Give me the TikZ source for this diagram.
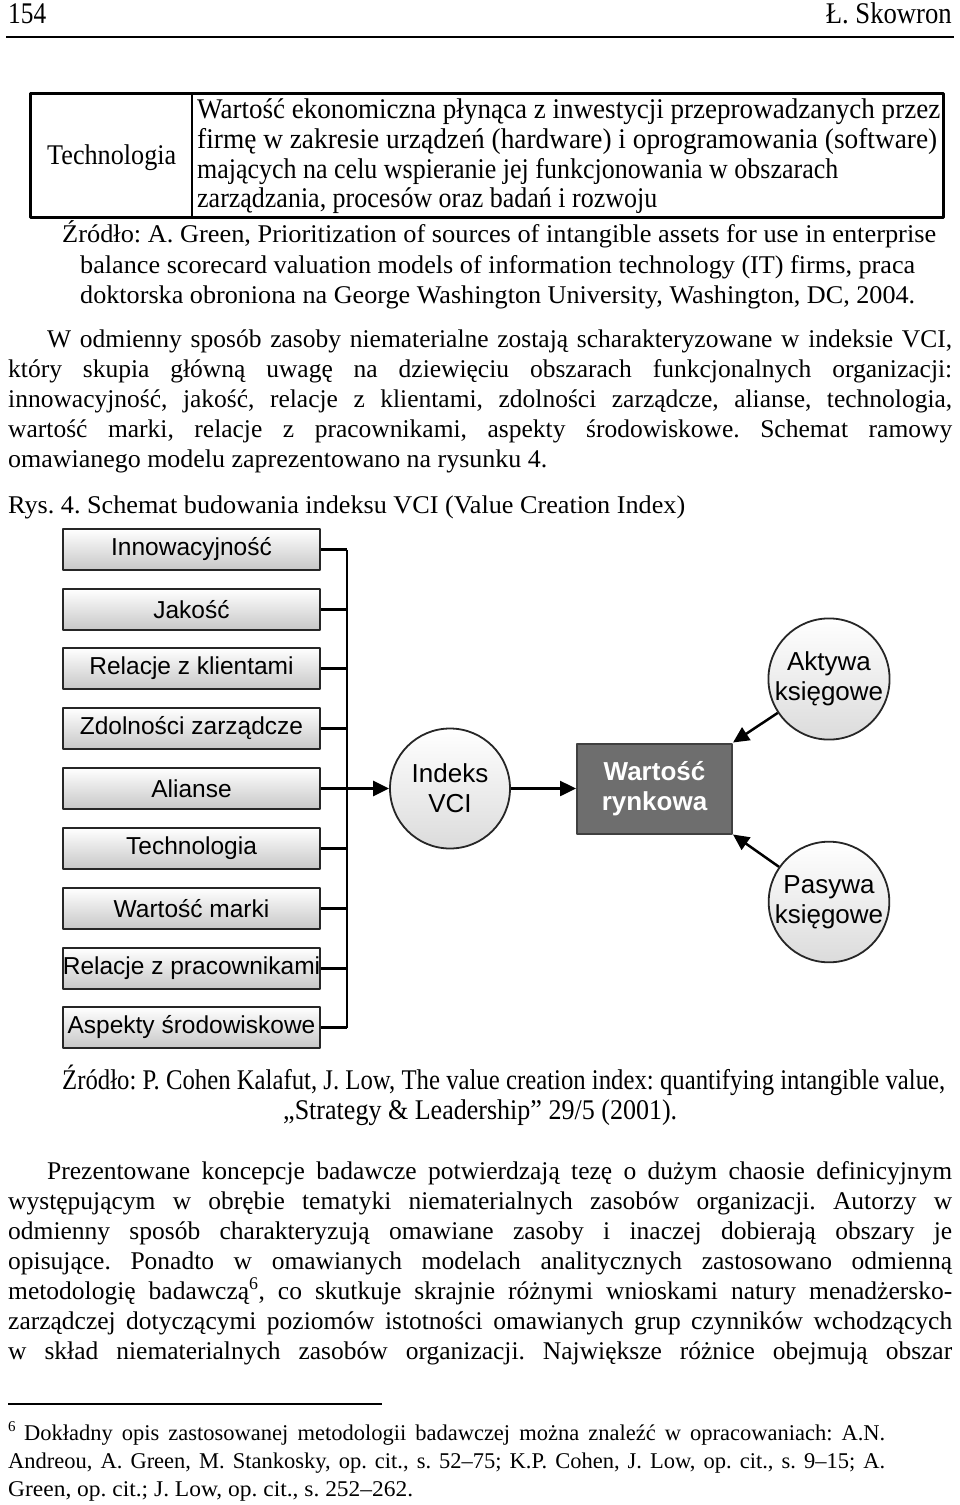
\documentclass[tikz,border=0pt]{standalone}
\usepackage{fontspec}
\setmainfont{Liberation Serif}
\newfontfamily\diagfont{Liberation Sans}
\usetikzlibrary{arrows.meta}
\tikzset{
	txt/.style={anchor=base west, inner sep=0pt},
	factor/.style={draw=black!85, line width=2pt, top color=white, bottom color=black!22, minimum width=257pt, minimum height=41pt, inner sep=0pt, font=\diagfont\fontsize{24.5}{28}\selectfont},
	ring/.style={circle, draw=black!85, line width=1.8pt, top color=white, bottom color=black!14, minimum size=120pt, inner sep=0pt, align=center, font=\diagfont\fontsize{26}{30}\selectfont},
	link/.style={line width=2.5pt},
	arr/.style={line width=2.5pt, -{Triangle[length=16pt,width=15pt]}},
}
\newcommand{\jline}[2]{\makebox[#1][s]{#2}}
\newcommand{\fitline}[2]{\resizebox{#1}{\height}{#2}}
\newcommand{\bodyfont}{\fontsize{25.5}{30}\selectfont}
\newcommand{\tallfont}{\fontsize{28.5}{30}\selectfont}
\newcommand{\notefont}{\fontsize{22.5}{28}\selectfont}
\frenchspacing
\begin{document}
\begin{tikzpicture}[x=1pt, y=-1pt, line join=round]
	\useasboundingbox (0,0) rectangle (960,1505);
	\fill[white] (0,0) rectangle (960,1505);
	% header
	\node[txt] (pageno) at (8,23) {\fontsize{30}{30}\selectfont\fitline{38pt}{154}};
	\node[anchor=base east, inner sep=0pt] (author) at (952,23) {\fontsize{30}{30}\selectfont\fitline{126pt}{Ł. Skowron}};
	\draw[line width=2pt] (6,37) -- (954,37);
	% table row
	\draw[line width=3pt] (30,93) rectangle (943,217);
	\draw[line width=1.5pt] (192,93) -- (192,217);
	\node[txt] (tabname) at (47,164) {\tallfont\fitline{129pt}{Technologia}};
	\node[txt] (tabl1) at (197,118) {\tallfont\fitline{743pt}{Wartość ekonomiczna płynąca z inwestycji przeprowadzanych przez}};
	\node[txt] (tabl2) at (197,148) {\tallfont\fitline{740pt}{firmę w zakresie urządzeń (hardware) i oprogramowania (software)}};
	\node[txt] (tabl3) at (197,178) {\tallfont\fitline{641pt}{mających na celu wspieranie jej funkcjonowania w obszarach}};
	\node[txt] (tabl4) at (197,207) {\tallfont\fitline{460pt}{zarządzania, procesów oraz badań i rozwoju}};
	% source of the table
	\node[txt] (srca) at (62,242) {\bodyfont\fitline{874pt}{Źródło: A. Green, Prioritization of sources of intangible assets for use in enterprise}};
	\node[txt] (srcb) at (80,273) {\bodyfont\fitline{835pt}{balance scorecard valuation models of information technology (IT) firms, praca}};
	\node[txt] (srcc) at (80,303) {\bodyfont\fitline{835pt}{doktorska obroniona na George Washington University, Washington, DC, 2004.}};
	% first paragraph
	\node[txt] (para) at (47,347) {\bodyfont\jline{905pt}{W odmienny sposób zasoby niematerialne zostają scharakteryzowane w indeksie VCI,}};
	\node[txt] (parb) at (8,377) {\bodyfont\jline{944pt}{który skupia główną uwagę na dziewięciu obszarach funkcjonalnych organizacji:}};
	\node[txt] (parc) at (8,407) {\bodyfont\jline{944pt}{innowacyjność, jakość, relacje z klientami, zdolności zarządcze, alianse, technologia,}};
	\node[txt] (pard) at (8,437) {\bodyfont\jline{944pt}{wartość marki, relacje z pracownikami, aspekty środowiskowe. Schemat ramowy}};
	\node[txt] (pare) at (8,467) {\bodyfont\fitline{539pt}{omawianego modelu zaprezentowano na rysunku 4.}};
	\node[txt] (figcap) at (8,513) {\bodyfont\fitline{677pt}{Rys. 4. Schemat budowania indeksu VCI (Value Creation Index)}};
	% figure
	\node[factor] (innow) at (191.5,549.5) {Innowacyjność};
	\node[factor] (jakosc) at (191.5,609.5) {Jakość};
	\node[factor] (relkl) at (191.5,668.5) {Relacje z klientami};
	\node[factor] (zdoln) at (191.5,728.5) {Zdolności zarządcze};
	\node[factor] (alianse) at (191.5,788.5) {Alianse};
	\node[factor] (techno) at (191.5,848.5) {Technologia};
	\node[factor] (marka) at (191.5,908.5) {Wartość marki};
	\node[factor] (relpr) at (191.5,968.5) {Relacje z pracownikami};
	\node[factor] (aspekty) at (191.5,1027.5) {Aspekty środowiskowe};
	\coordinate (bus) at (347,0);
	\node[ring] (vci) at (450,788.5) {Indeks\\VCI};
	\node[draw=black!75, line width=2pt, fill=black!57, minimum width=155pt, minimum height=90pt, inner sep=0pt, align=center, text=white, font=\diagfont\bfseries\fontsize{26}{30}\selectfont] (rynek) at (654.5,788.5) {Wartość\\rynkowa};
	\node[ring] (aktywa) at (829,679) {Aktywa\\księgowe};
	\node[ring] (pasywa) at (829,902) {Pasywa\\księgowe};
	\draw[link] (innow.east -| bus) -- (aspekty.east -| bus);
	\draw[link] (innow.east) -- (innow.east -| bus);
	\draw[link] (jakosc.east) -- (jakosc.east -| bus);
	\draw[link] (relkl.east) -- (relkl.east -| bus);
	\draw[link] (zdoln.east) -- (zdoln.east -| bus);
	\draw[link] (techno.east) -- (techno.east -| bus);
	\draw[link] (marka.east) -- (marka.east -| bus);
	\draw[link] (relpr.east) -- (relpr.east -| bus);
	\draw[link] (aspekty.east) -- (aspekty.east -| bus);
	\draw[arr] (alianse.east) -- (vci);
	\draw[arr] (vci) -- (rynek);
	\draw[arr] (aktywa) -- (rynek.north east);
	\draw[arr] (pasywa) -- (rynek.south east);
	% source of the figure
	\node[txt] (srcd) at (62,1089) {\tallfont\fitline{883pt}{Źródło: P. Cohen Kalafut, J. Low, The value creation index: quantifying intangible value,}};
	\node[txt] (srce) at (283,1119) {\tallfont\fitline{394pt}{„Strategy \& Leadership” 29/5 (2001).}};
	% second paragraph
	\node[txt] (parf) at (47,1179) {\bodyfont\jline{905pt}{Prezentowane koncepcje badawcze potwierdzają tezę o dużym chaosie definicyjnym}};
	\node[txt] (parg) at (8,1209) {\bodyfont\jline{944pt}{występującym w obrębie tematyki niematerialnych zasobów organizacji. Autorzy w}};
	\node[txt] (parh) at (8,1239) {\bodyfont\jline{944pt}{odmienny sposób charakteryzują omawiane zasoby i inaczej dobierają obszary je}};
	\node[txt] (pari) at (8,1269) {\bodyfont\jline{944pt}{opisujące. Ponadto w omawianych modelach analitycznych zastosowano odmienną}};
	\node[txt] (parj) at (8,1299) {\bodyfont\jline{944pt}{metodologię badawczą\textsuperscript{6}, co skutkuje skrajnie różnymi wnioskami natury menadżersko-}};
	\node[txt] (park) at (8,1329) {\bodyfont\jline{944pt}{zarządczej dotyczącymi poziomów istotności omawianych grup czynników wchodzących}};
	\node[txt] (parl) at (8,1359) {\bodyfont\jline{944pt}{w skład niematerialnych zasobów organizacji. Największe różnice obejmują obszar}};
	% footnote
	\draw[line width=1.5pt] (8,1404) -- (382,1404);
	\node[txt] (fnmark) at (8,1431) {\fontsize{15}{18}\selectfont 6};
	\node[txt] (fna) at (24,1440) {\notefont\jline{861pt}{Dokładny opis zastosowanej metodologii badawczej można znaleźć w opracowaniach: A.N.}};
	\node[txt] (fnb) at (8,1468) {\notefont\jline{877pt}{Andreou, A. Green, M. Stankosky, op. cit., s. 52–75; K.P. Cohen, J. Low, op. cit., s. 9–15; A.}};
	\node[txt] (fnc) at (8,1496) {\notefont\fitline{405pt}{Green, op. cit.; J. Low, op. cit., s. 252–262.}};
\end{tikzpicture}
\end{document}
